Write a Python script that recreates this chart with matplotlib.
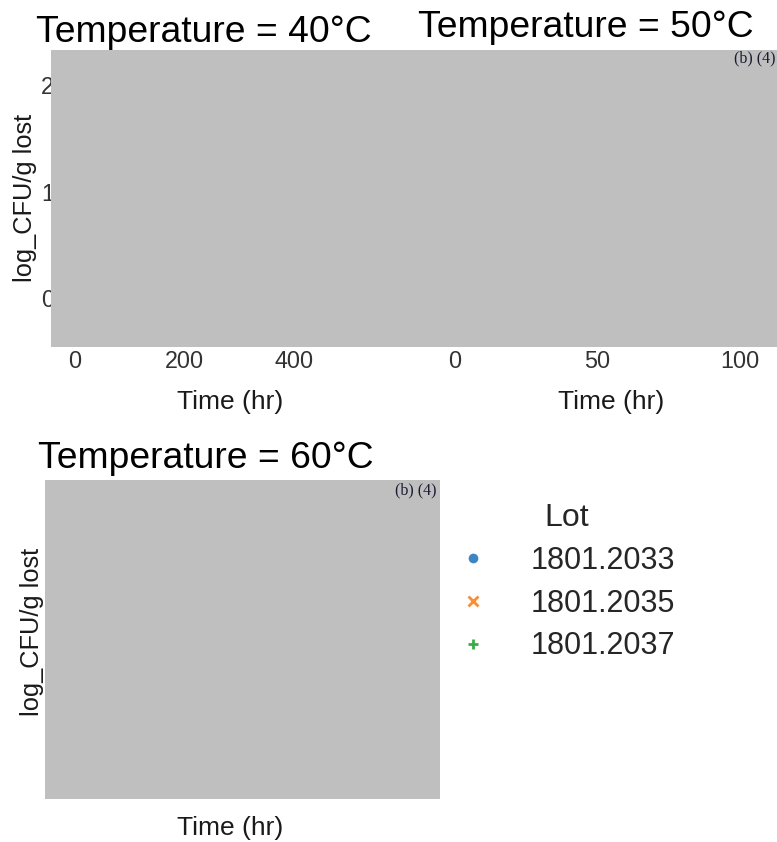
import matplotlib
matplotlib.use("Agg")
import matplotlib.pyplot as plt
from matplotlib.lines import Line2D
from matplotlib.patches import Rectangle

plt.rcParams['font.family'] = ['Liberation Sans', 'DejaVu Sans']

# lots shown in the legend
lots = ["1801.2033", "1801.2035", "1801.2037"]
lot_markers = ["o", "x", "+"]
lot_colors = ["#3b87c6", "#ff8c2f", "#3bab47"]

# one panel per storage temperature
temperatures = [40, 50, 60]
time_ticks = {40: [0, 200, 400], 50: [0, 50, 100], 60: []}
time_limits = {40: (-31, 597), 50: (-5.3, 114.7), 60: (-31, 597)}
loss_ticks = [0, 1, 2]
loss_limits = (-0.45, 2.33)

W, H = 777, 842
fig = plt.figure(figsize=(W / 100, H / 100), dpi=100)


def px_box(x0, y0, x1, y1):
    # pixel box (top-left origin) -> figure fraction rect
    return [x0 / W, 1 - y1 / H, (x1 - x0) / W, (y1 - y0) / H]


axes = {
    40: fig.add_axes(px_box(58, 50, 402, 346)),
    50: fig.add_axes(px_box(440, 50, 782, 346)),
    60: fig.add_axes(px_box(58, 477, 402, 772)),
}

for temp, ax in axes.items():
    for s in ax.spines.values():
        s.set_visible(False)
    ax.set_xlim(*time_limits[temp])
    ax.set_ylim(*loss_limits)
    ax.set_xticks(time_ticks[temp])
    ax.set_yticks(loss_ticks)
    ax.tick_params(length=0, pad=3, labelsize=16.8, labelcolor="#333333")
    ax.set_xlabel("Time (hr)", fontsize=19, color="#1a1a1a")
    ax.xaxis.set_label_coords(0.5, -0.15)

axes[50].tick_params(labelleft=False)
axes[60].tick_params(labelleft=False, labelbottom=False)

axes[40].set_ylabel("log_CFU/g lost", fontsize=18.3, color="#1a1a1a")
axes[40].yaxis.set_label_coords(-0.06, 0.5)
axes[60].set_ylabel("log_CFU/g lost", fontsize=18.3, color="#1a1a1a")
axes[60].yaxis.set_label_coords(-0.04, 0.475)

# facet titles
title_pos = {40: (204, 42), 50: (586, 37), 60: (206, 468)}
for temp in temperatures:
    x, y = title_pos[temp]
    fig.text(x / W, 1 - y / H, f"Temperature = {temp}°C", fontsize=26.8,
             ha="center", va="baseline", color="black")

# redaction blocks over the plotting areas
for (x0, y0, x1, y1), (tx, ty) in [((51, 50, 777, 347), (775, 58)),
                                   ((45, 480, 440, 799), (437, 490))]:
    fig.add_artist(Rectangle((x0 / W, 1 - y1 / H), (x1 - x0) / W, (y1 - y0) / H,
                             transform=fig.transFigure, facecolor="#bfbfbf",
                             edgecolor="none", zorder=5))
    fig.text(tx / W, 1 - ty / H, "(b) (4)", fontsize=11.5, family="Liberation Serif",
             ha="right", va="center", color="#1a1a33", zorder=6)

handles = [Line2D([], [], linestyle="none", marker=m, color=c, markersize=7,
                  markeredgewidth=2 if m != "o" else 0)
           for m, c in zip(lot_markers, lot_colors)]
leg = fig.legend(handles, lots, title="Lot", loc="upper left",
                 bbox_to_anchor=(458 / W, 1 - 503 / H), frameon=False,
                 fontsize=22, title_fontsize=23, handlelength=1.0,
                 handletextpad=1.37, labelspacing=0.42, borderpad=0,
                 borderaxespad=0)
for t in leg.get_texts():
    t.set_color("#262626")
leg.get_title().set_color("#262626")

fig.savefig("out.png", dpi=100)
